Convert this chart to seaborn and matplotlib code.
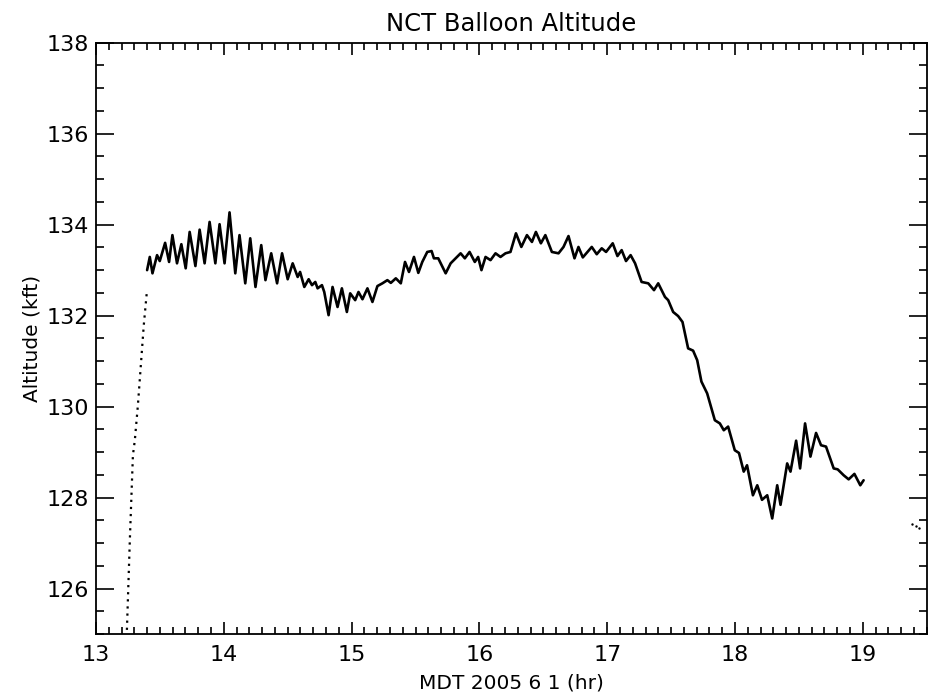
import numpy as np
import pandas as pd
import matplotlib
matplotlib.use("Agg")
import matplotlib.pyplot as plt
from matplotlib.ticker import MultipleLocator
import seaborn as sns

# Ascent (sparse samples, drawn dotted)
ascent_hr = [13.242, 13.265, 13.289, 13.304, 13.328, 13.351, 13.374, 13.398]
ascent_kft = [125.09, 127.07, 128.93, 129.26, 130.03, 130.91, 131.79, 132.52]

# Float portion
float_hr = [
    13.400, 13.421, 13.442, 13.478, 13.499, 13.541, 13.572, 13.598, 13.634, 13.668,
    13.702, 13.733, 13.778, 13.811, 13.850, 13.889, 13.934, 13.967, 14.006, 14.045,
    14.090, 14.123, 14.168, 14.207, 14.248, 14.293, 14.326, 14.371, 14.417, 14.456,
    14.500, 14.539, 14.578, 14.597, 14.630, 14.664, 14.690, 14.716, 14.734, 14.768,
    14.786, 14.820, 14.851, 14.890, 14.924, 14.963, 14.989, 15.028, 15.054, 15.085,
    15.124, 15.163, 15.202, 15.241, 15.280, 15.307, 15.346, 15.385, 15.418, 15.449,
    15.488, 15.522, 15.553, 15.592, 15.626, 15.644, 15.678, 15.736, 15.775, 15.814,
    15.853, 15.886, 15.923, 15.964, 15.990, 16.016, 16.048, 16.087, 16.126, 16.165,
    16.204, 16.243, 16.286, 16.328, 16.372, 16.411, 16.442, 16.481, 16.516, 16.567,
    16.619, 16.658, 16.697, 16.744, 16.775, 16.809, 16.879, 16.918, 16.957, 16.991,
    17.043, 17.080, 17.113, 17.147, 17.183, 17.218, 17.269, 17.321, 17.366, 17.399,
    17.452, 17.477, 17.516, 17.555, 17.589, 17.633, 17.672, 17.704, 17.737, 17.782,
    17.842, 17.881, 17.912, 17.946, 17.998, 18.031, 18.068, 18.094, 18.140, 18.174,
    18.211, 18.252, 18.291, 18.330, 18.356, 18.408, 18.434, 18.478, 18.509, 18.548,
    18.590, 18.634, 18.673, 18.712, 18.772, 18.803, 18.850, 18.889, 18.934, 18.980,
    19.006,
]
float_kft = [
    133.00, 133.29, 132.93, 133.33, 133.20, 133.60, 133.18, 133.77, 133.15, 133.57,
    133.04, 133.84, 133.09, 133.89, 133.15, 134.06, 133.15, 134.01, 133.15, 134.27,
    132.93, 133.77, 132.71, 133.70, 132.63, 133.55, 132.78, 133.37, 132.71, 133.37,
    132.80, 133.15, 132.85, 132.96, 132.63, 132.80, 132.67, 132.74, 132.60, 132.67,
    132.52, 132.01, 132.63, 132.19, 132.60, 132.08, 132.49, 132.34, 132.52, 132.36,
    132.60, 132.30, 132.65, 132.71, 132.78, 132.72, 132.82, 132.71, 133.18, 132.96,
    133.29, 132.94, 133.18, 133.40, 133.42, 133.26, 133.26, 132.93, 133.15, 133.26,
    133.37, 133.26, 133.40, 133.18, 133.29, 133.00, 133.29, 133.22, 133.37, 133.29,
    133.37, 133.40, 133.81, 133.51, 133.77, 133.62, 133.84, 133.59, 133.77, 133.40,
    133.37, 133.51, 133.75, 133.26, 133.51, 133.28, 133.51, 133.35, 133.48, 133.40,
    133.59, 133.31, 133.44, 133.20, 133.33, 133.15, 132.74, 132.71, 132.56, 132.71,
    132.41, 132.34, 132.08, 131.99, 131.86, 131.28, 131.23, 131.02, 130.55, 130.29,
    129.70, 129.63, 129.48, 129.56, 129.04, 128.98, 128.57, 128.71, 128.05, 128.27,
    127.95, 128.05, 127.54, 128.27, 127.84, 128.75, 128.57, 129.25, 128.64, 129.63,
    128.90, 129.42, 129.15, 129.12, 128.64, 128.62, 128.49, 128.40, 128.52, 128.27,
    128.38,
]

# Stray points near the right edge
stray_hr = [19.388, 19.416, 19.441]
stray_kft = [127.42, 127.37, 127.32]

x_range = (13.0, 19.5)
y_range = (125.0, 138.0)

sns.set_style("white")
plt.rcParams["font.family"] = ["DejaVu Sans"]
plt.rcParams["text.color"] = "black"
plt.rcParams["axes.labelcolor"] = "black"
plt.rcParams["xtick.color"] = "black"
plt.rcParams["ytick.color"] = "black"

fig = plt.figure(figsize=(9.3, 6.96), dpi=100)
ax = fig.add_axes([0.1032, 0.0891, 0.8933, 0.8495])

asc = pd.DataFrame({"hr": ascent_hr, "kft": ascent_kft})
flt = pd.DataFrame({"hr": float_hr, "kft": float_kft})
st = pd.DataFrame({"hr": stray_hr, "kft": stray_kft})

sns.lineplot(data=asc, x="hr", y="kft", ax=ax, color="black", lw=1.6,
             linestyle=(0, (1, 2.2)), sort=False, estimator=None)
sns.lineplot(data=flt, x="hr", y="kft", ax=ax, color="black", lw=1.9,
             sort=False, estimator=None)
sns.scatterplot(data=st, x="hr", y="kft", ax=ax, color="black", s=3,
                linewidth=0, marker="o")

ax.set_xlim(*x_range)
ax.set_ylim(*y_range)
ax.xaxis.set_major_locator(MultipleLocator(1))
ax.xaxis.set_minor_locator(MultipleLocator(0.1))
ax.yaxis.set_major_locator(MultipleLocator(2))
ax.yaxis.set_minor_locator(MultipleLocator(0.5))

for s in ax.spines.values():
    s.set_visible(True)
    s.set_linewidth(1.3)
    s.set_color("black")

ax.tick_params(axis="both", which="both", direction="in",
               top=True, right=True, bottom=True, left=True,
               color="black", labelcolor="black", width=1.2, labelsize=16)
ax.tick_params(axis="x", which="major", length=8.6, pad=8)
ax.tick_params(axis="x", which="minor", length=5)
ax.tick_params(axis="y", which="major", length=13, pad=5)
ax.tick_params(axis="y", which="minor", length=6)

ax.set_title("NCT Balloon Altitude", fontsize=17.5, pad=8.4, color="black")
ax.set_xlabel("MDT 2005 6 1 (hr)", fontsize=14.5, color="black")
ax.set_ylabel("Altitude (kft)", fontsize=14.5, color="black")
ax.xaxis.set_label_coords(0.5, -0.066)
ax.yaxis.set_label_coords(-0.065, 0.5)

fig.savefig("out.png", dpi=100, facecolor="white")
